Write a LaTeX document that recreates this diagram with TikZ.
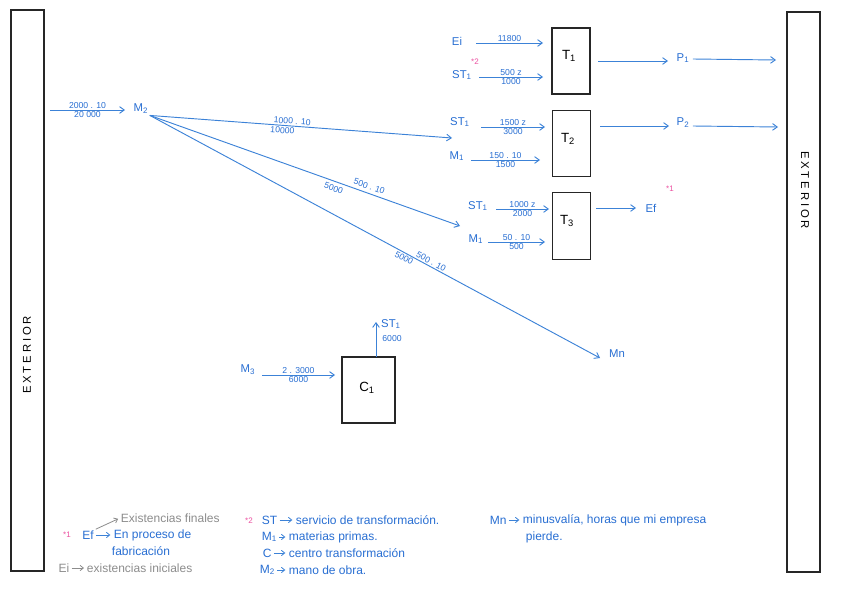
\documentclass[tikz,border=0pt]{standalone}
\usepackage{fontspec}
\setmainfont{Liberation Sans}
\usetikzlibrary{arrows.meta}
\definecolor{bt}{RGB}{40,110,210}
\definecolor{bl}{RGB}{60,130,215}
\definecolor{pk}{RGB}{235,80,160}
\definecolor{gy}{RGB}{140,140,140}
\tikzset{
  boxnode/.style={draw=black!85, line width=0.8pt, inner sep=0pt},
  flow/.style={draw=bl, line width=0.7pt, -{Straight Barb[length=3.5pt,width=5pt]}},
  gflow/.style={draw=gy, line width=0.6pt, shorten <=1pt, shorten >=1.5pt, -{Straight Barb[length=2.5pt,width=4pt]}},
  legflow/.style={draw=bl, line width=0.6pt, shorten <=1pt, shorten >=2pt, -{Straight Barb[length=2.5pt,width=4pt]}},
  lbl/.style={text=bt, font=\fontsize{8.5}{9}\selectfont, inner sep=1pt},
  num/.style={text=bt, font=\fontsize{6.5}{7}\selectfont, inner sep=1pt},
  star/.style={text=pk, font=\fontsize{6}{6}\selectfont, inner sep=0pt},
  leg/.style={text=bt, font=\fontsize{9}{10}\selectfont, inner sep=0.5pt, anchor=west},
  gleg/.style={text=gy, font=\fontsize{9}{10}\selectfont, inner sep=0.5pt, anchor=west},
  boxlbl/.style={font=\fontsize{10}{11}\selectfont},
  ext/.style={font=\fontsize{8.5}{9}\selectfont\addfontfeatures{LetterSpace=25}}
}
\begin{document}
\begin{tikzpicture}[x=0.75pt,y=-0.75pt]
\useasboundingbox (0,0) rectangle (848,599);
% exterior
\node[boxnode, minimum width=24.75pt, minimum height=420.75pt] (extL) at (27.5,290.5) {};
\node[ext, rotate=90] (extLt) at (27,355) {EXTERIOR};
\node[boxnode, minimum width=24.75pt, minimum height=420pt] (extR) at (803.5,292) {};
\node[ext, rotate=-90] (extRt) at (805,190) {EXTERIOR};
% boxes
\node[boxnode, minimum width=28.5pt, minimum height=49.5pt] (T1) at (571,61) {};
\node[boxlbl] at (569,56) {T\textsubscript{1}};
\node[boxnode, minimum width=28pt, minimum height=50pt] (T2) at (571.5,143.5) {};
\node[boxlbl] at (568,139) {T\textsubscript{2}};
\node[boxnode, minimum width=28pt, minimum height=50pt] (T3) at (571.5,226) {};
\node[boxlbl] at (567,221) {T\textsubscript{3}};
\node[boxnode, minimum width=39.75pt, minimum height=49.5pt] (C1) at (368.5,390) {};
\node[boxlbl] at (367,388) {C\textsubscript{1}};
% T1 inputs
\node[lbl] (ei) at (457,41) {Ei};
\coordinate (eiA) at (476,43); \coordinate (eiB) at (543,43);
\draw[flow] (eiA) -- node[num, above] {11800} (eiB);
\node[star] (s2a) at (475,62) {*2};
\node[lbl] (st1a) at (462,75) {ST\textsubscript{1}};
\coordinate (stAa) at (479,77); \coordinate (stAb) at (543,77);
\draw[flow] (stAa) -- node[num, above] {500 z} node[num, below] {1000} (stAb);
% T1 output
\node[lbl] (P1) at (683,58) {P\textsubscript{1}};
\coordinate (t1o) at (598,61); \coordinate (p1i) at (668,61);
\draw[flow] (t1o) -- (p1i);
\coordinate (p1o) at (776,60);
\draw[flow] (P1.east) ++(2,1) -- (p1o);
% M2
\node[lbl] (M2) at (141,109) {M\textsubscript{2}};
\coordinate (m2a) at (50,110); \coordinate (m2b) at (125,110);
\draw[flow] (m2a) -- node[num, above] {2000 . 10} node[num, below] {20 000} (m2b);
\coordinate (e1) at (452,138);
\coordinate (e2) at (460,226);
\node[lbl] (Mn) at (617,354) {Mn};
\coordinate (e3) at (600,358);
\draw[flow] (M2.south east) -- node[num, sloped, above, pos=0.47] {1000 . 10} node[num, sloped, below, pos=0.44] {10000} (e1);
\draw[flow] (M2.south east) -- node[num, sloped, above=1.5pt, pos=0.70] {500 . 10} node[num, sloped, below=1.5pt, pos=0.60] {5000} (e2);
\draw[flow] (M2.south east) -- node[num, sloped, above, pos=0.62] {500 . 10} node[num, sloped, below, pos=0.57] {5000} (e3);
% T2 inputs
\node[lbl] (st1b) at (460,122) {ST\textsubscript{1}};
\coordinate (stBa) at (481,127); \coordinate (stBb) at (545,127);
\draw[flow] (stBa) -- node[num, above] {1500 z} node[num, below] {3000} (stBb);
\node[lbl] (m1b) at (457,156) {M\textsubscript{1}};
\coordinate (mBa) at (471,160); \coordinate (mBb) at (540,160);
\draw[flow] (mBa) -- node[num, above] {150 . 10} node[num, below] {1500} (mBb);
% T2 output
\node[lbl] (P2) at (683,123) {P\textsubscript{2}};
\coordinate (t2o) at (600,126); \coordinate (p2i) at (669,126);
\draw[flow] (t2o) -- (p2i);
\coordinate (p2o) at (778,127);
\draw[flow] (P2.east) ++(2,3) -- (p2o);
% T3 inputs
\node[lbl] (st1c) at (478,206) {ST\textsubscript{1}};
\coordinate (stCa) at (496,209); \coordinate (stCb) at (549,209);
\draw[flow] (stCa) -- node[num, above] {1000 z} node[num, below] {2000} (stCb);
\node[lbl] (m1c) at (476,239) {M\textsubscript{1}};
\coordinate (mCa) at (488,242); \coordinate (mCb) at (545,242);
\draw[flow] (mCa) -- node[num, above] {50 . 10} node[num, below] {500} (mCb);
% T3 output
\node[lbl] (Ef) at (651,208) {Ef};
\node[star] (s1a) at (670,189) {*1};
\coordinate (t3o) at (596,208); \coordinate (efi) at (636,208);
\draw[flow] (t3o) -- (efi);
% C1
\node[lbl] (M3) at (248,370) {M\textsubscript{3}};
\coordinate (m3a) at (262,375); \coordinate (m3b) at (335,375);
\draw[flow] (m3a) -- node[num, above] {2 . 3000} node[num, below] {6000} (m3b);
\coordinate (c1t) at (376,357); \coordinate (c1u) at (376,322);
\draw[flow] (c1t) -- (c1u);
\node[lbl] (st1d) at (391,324) {ST\textsubscript{1}};
\node[num] (n6000) at (392,339) {6000};
% legend 1
\node[star] (s1b) at (67,535) {*1};
\node[leg, anchor=center] (efL) at (88,535) {Ef};
\node[leg] (epd) at (113,535) {En proceso de};
\node[leg] (fab) at (111,551) {fabricación};
\draw[legflow] (efL.east) -- (epd.west);
\node[gleg] (exf) at (120,518) {Existencias finales};
\draw[gflow] (efL.north east) -- (exf.west);
\node[gleg, anchor=center] (eiL) at (64,568) {Ei};
\node[gleg] (exi) at (86,568) {existencias iniciales};
\draw[gflow] (eiL.east) -- (exi.west);
% legend 2
\node[star] (s2b) at (249,521) {*2};
\node[leg] (stL) at (261,520) {ST};
\node[leg] (stD) at (295,520) {servicio de transformación.};
\draw[legflow] (stL.east) -- (stD.west);
\node[leg] (m1L) at (261,537) {M\textsubscript{1}};
\node[leg] (m1D) at (288,537) {materias primas.};
\draw[legflow] (m1L.east) -- (m1D.west);
\node[leg] (cL) at (262,553) {C};
\node[leg] (cD) at (288,553) {centro transformación};
\draw[legflow] (cL.east) -- (cD.west);
\node[leg] (m2L) at (259,570) {M\textsubscript{2}};
\node[leg] (m2D) at (288,570) {mano de obra.};
\draw[legflow] (m2L.east) -- (m2D.west);
% legend 3
\node[leg] (mnL) at (489,520) {Mn};
\node[leg] (mnD) at (522,520) {minusvalía, horas que mi empresa};
\node[leg] (mnD2) at (525,537) {pierde.};
\draw[legflow] (mnL.east) -- (mnD.west);
\end{tikzpicture}
\end{document}
